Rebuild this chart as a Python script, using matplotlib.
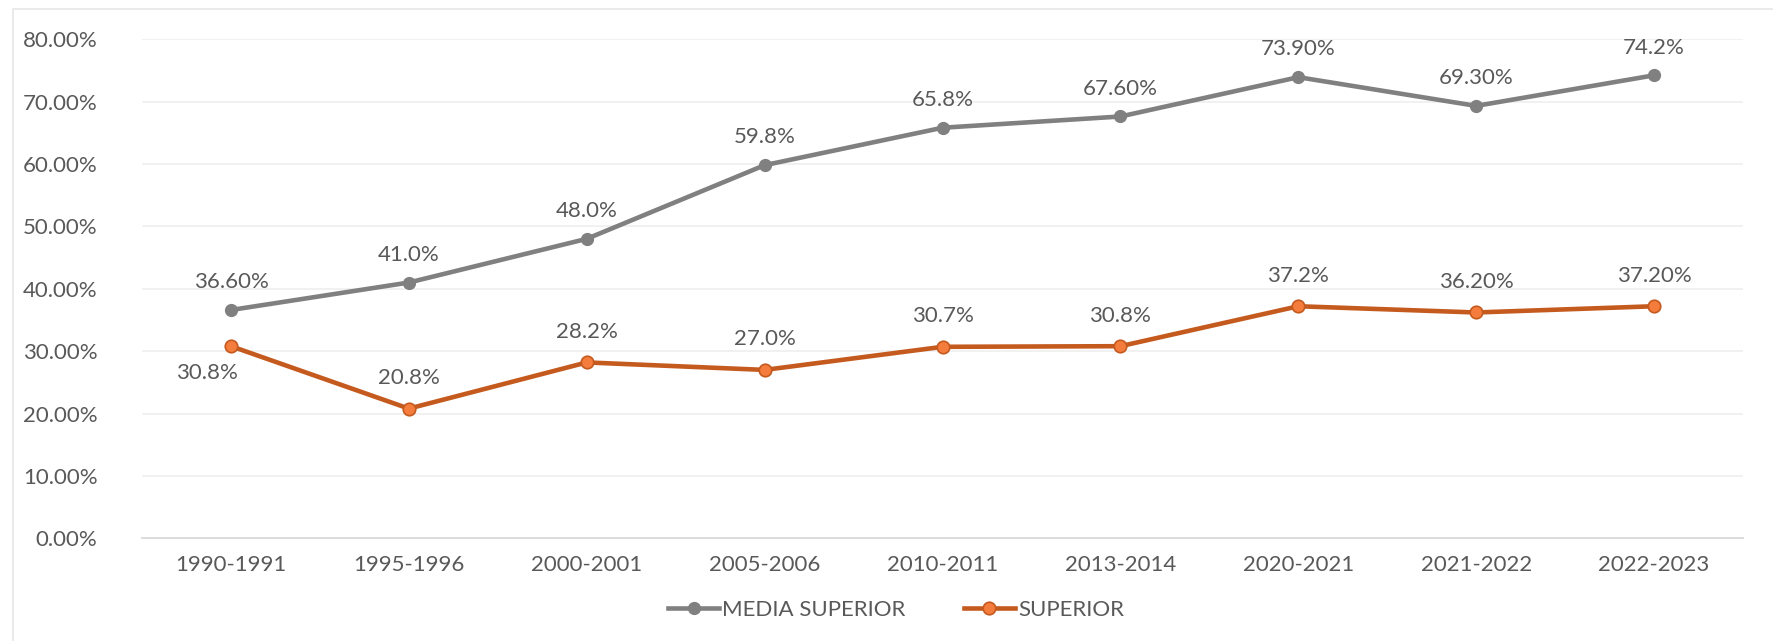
import numpy as np
import matplotlib.pyplot as plt
from matplotlib.patches import Rectangle

periods = ['1990-1991', '1995-1996', '2000-2001', '2005-2006', '2010-2011',
           '2013-2014', '2020-2021', '2021-2022', '2022-2023']
media_superior = [36.6, 41.0, 48.0, 59.8, 65.8, 67.6, 73.9, 69.3, 74.2]
superior = [30.8, 20.8, 28.2, 27.0, 30.7, 30.8, 37.2, 36.2, 37.2]
media_labels = ['36.60%', '41.0%', '48.0%', '59.8%', '65.8%', '67.60%', '73.90%', '69.30%', '74.2%']
superior_labels = ['30.8%', '20.8%', '28.2%', '27.0%', '30.7%', '30.8%', '37.2%', '36.20%', '37.20%']
y_ticks = [0, 10, 20, 30, 40, 50, 60, 70, 80]

plt.rcParams['font.family'] = ['Lato', 'DejaVu Sans']
text_color = '#595959'

fig = plt.figure(figsize=(17.73, 6.41), dpi=100)
ax = fig.add_axes([0.0801, 0.160, 0.903, 0.779])

# chart frame
fig.patches.append(Rectangle((13 / 1773, -0.05), 1.2, 1 - 9 / 641 + 0.05,
                             transform=fig.transFigure, fill=False,
                             edgecolor='#e6e6e6', linewidth=1.2))

x = np.arange(len(periods))
gray = '#808080'
orange_line = '#c55a1f'
orange_face = '#f47c3c'

ax.plot(x, media_superior, color=gray, lw=3.3, marker='o', ms=8.5,
        mfc=gray, mec=gray, label='MEDIA SUPERIOR', zorder=3)
ax.plot(x, superior, color=orange_line, lw=3.3, marker='o', ms=9,
        mfc=orange_face, mec=orange_line, mew=1.2, label='SUPERIOR', zorder=3)

for xi, v, t in zip(x, media_superior, media_labels):
    ax.annotate(t, (xi, v), xytext=(0, 20), textcoords='offset points',
                ha='center', va='center', fontsize=16, color=text_color)
for i, (xi, v, t) in enumerate(zip(x, superior, superior_labels)):
    off = (-17, -19) if i == 0 else (0, 22)
    ax.annotate(t, (xi, v), xytext=off, textcoords='offset points',
                ha='center', va='center', fontsize=16, color=text_color)

ax.set_xlim(-0.5, len(periods) - 0.5)
ax.set_ylim(0, 80)
ax.set_yticks(y_ticks)
ax.set_yticklabels([f'{v:.2f}%' for v in y_ticks])
ax.set_xticks(x)
ax.set_xticklabels(periods)
ax.tick_params(axis='both', length=0, labelsize=16, colors=text_color)
ax.tick_params(axis='y', pad=32)
ax.tick_params(axis='x', pad=12)
ax.grid(axis='y', color='#f0f0f0', lw=1.3)
ax.set_axisbelow(True)
for s in ['top', 'right', 'left']:
    ax.spines[s].set_visible(False)
ax.spines['bottom'].set_color('#d9d9d9')
ax.spines['bottom'].set_linewidth(1.3)

fig.legend(loc='center', bbox_to_anchor=(896 / 1773, 0.048), ncol=2,
           frameon=False, fontsize=16, labelcolor=text_color,
           handlelength=2.3, handletextpad=0.15, columnspacing=2.6)

fig.savefig('out.png', dpi=100)
